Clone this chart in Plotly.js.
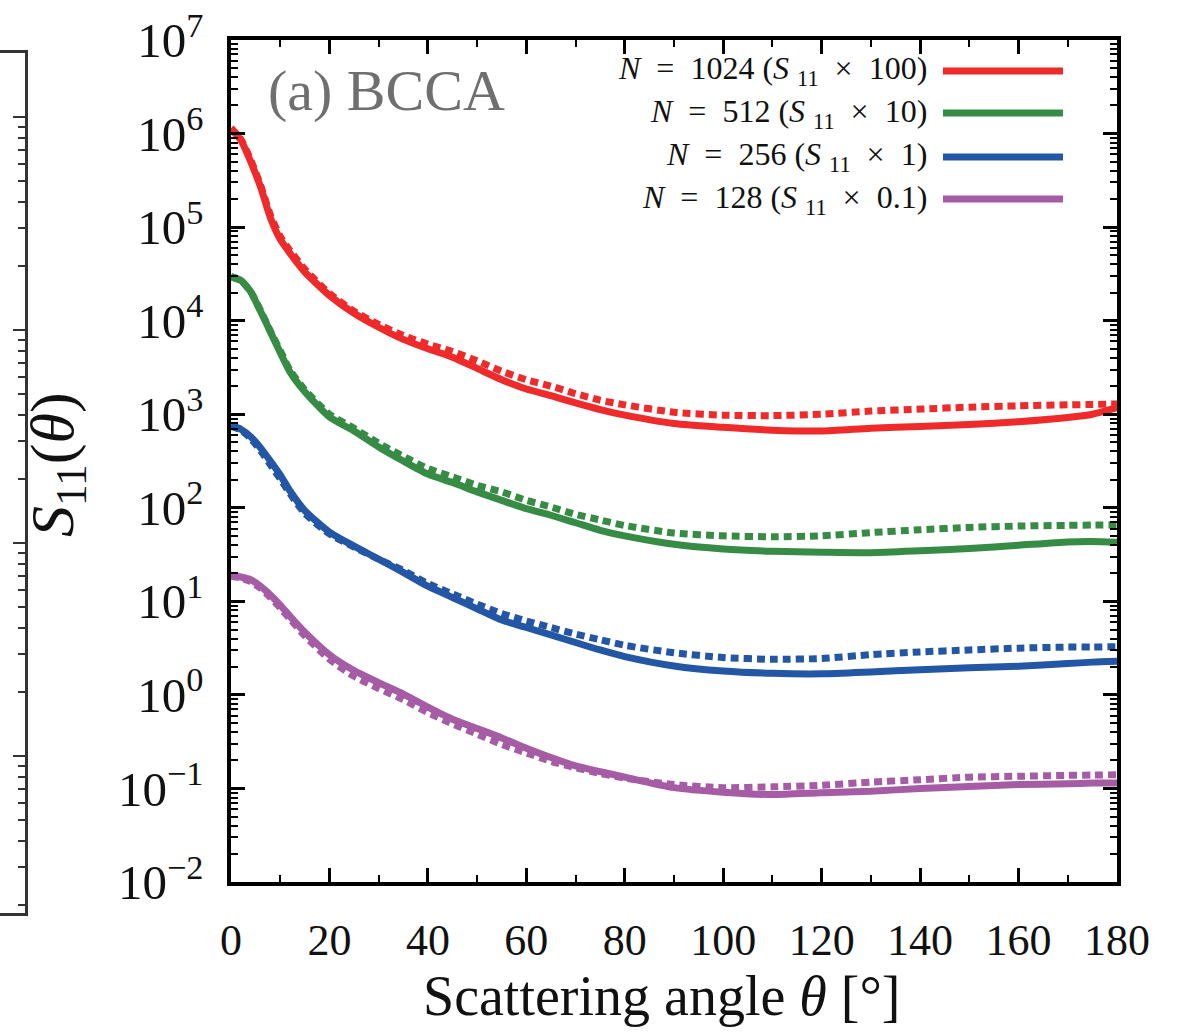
<!DOCTYPE html>
<html>
<head>
<meta charset="utf-8">
<script src="https://cdn.plot.ly/plotly-3.0.1.min.js"></script>
<style>html,body{margin:0;padding:0;background:#fff;}#chart{width:1182px;height:1033px;}</style>
</head>
<body>
<div id="chart"></div>
<script>
// Scattering angle (degrees)
const theta = [0, 2, 4, 6, 8, 10, 12, 15, 20, 25, 30, 35, 40, 45, 50, 55, 60, 65, 70, 75, 80, 90, 100, 110, 120, 130, 140, 150, 160, 170, 175, 180];

// N = 1024 (S11 x 100)
const n1024_solid = [1120000, 851000, 501000, 269000, 126000, 74100, 52500, 33100, 18600, 12000, 8510, 6310, 5010, 4070, 3090, 2340, 1860, 1580, 1320, 1120, 977, 794, 724, 676, 661, 708, 741, 776, 832, 923, 1000, 1175];
const n1024_dotted = [1150000, 871000, 525000, 282000, 135000, 79400, 56200, 35500, 19500, 12600, 9120, 6920, 5620, 4680, 3720, 2880, 2340, 2000, 1660, 1410, 1260, 1050, 977, 966, 1000, 1080, 1135, 1190, 1230, 1260, 1270, 1290];

// N = 512 (S11 x 10)
const n512_solid = [29500, 26900, 20400, 12600, 7590, 4570, 2820, 1740, 933, 661, 447, 316, 229, 186, 148, 120, 97.7, 83.2, 69.2, 57.5, 50.1, 40.7, 36.3, 34.3, 33.5, 33.1, 34.7, 36.7, 39.8, 43.2, 43.7, 42.7];
const n512_dotted = [29500, 26900, 20400, 12900, 7760, 4790, 2950, 1820, 1000, 708, 490, 355, 263, 214, 174, 148, 120, 102, 85.1, 74.1, 64.6, 53.7, 50.1, 49.0, 50.1, 54.3, 58.2, 61.7, 63.8, 64.9, 65.3, 65.3];

// N = 256 (S11 x 1)
const n256_solid = [759, 692, 575, 437, 316, 224, 151, 93.3, 55.0, 38.9, 28.2, 20.4, 14.5, 11.0, 8.32, 6.31, 5.25, 4.37, 3.63, 3.02, 2.57, 2.04, 1.80, 1.70, 1.68, 1.76, 1.86, 1.95, 2.02, 2.16, 2.24, 2.29];
const n256_dotted = [741, 676, 550, 407, 288, 204, 141, 87.1, 52.5, 38.0, 28.2, 21.4, 15.5, 12.0, 9.33, 7.41, 6.17, 5.25, 4.47, 3.89, 3.39, 2.82, 2.51, 2.40, 2.45, 2.69, 2.88, 3.02, 3.16, 3.24, 3.25, 3.27];

// N = 128 (S11 x 0.1)
const n128_solid = [18.8, 18.2, 17.0, 14.5, 11.7, 9.12, 6.92, 4.68, 2.69, 1.82, 1.35, 1.02, 0.741, 0.550, 0.437, 0.347, 0.269, 0.214, 0.174, 0.151, 0.132, 0.102, 0.0912, 0.0861, 0.0902, 0.0933, 0.100, 0.105, 0.110, 0.112, 0.114, 0.114];
const n128_dotted = [18.6, 17.8, 16.2, 13.8, 11.0, 8.51, 6.46, 4.27, 2.40, 1.58, 1.17, 0.891, 0.646, 0.490, 0.380, 0.295, 0.240, 0.195, 0.166, 0.145, 0.129, 0.110, 0.102, 0.104, 0.108, 0.117, 0.124, 0.132, 0.135, 0.138, 0.139, 0.140];

const SP = '\u2002';
const seriesNames = [
  '<i>N</i>' + SP + '=' + SP + '1024 (<i>S</i> <sub>11</sub>' + SP + '×' + SP + '100)',
  '<i>N</i>' + SP + '=' + SP + '512 (<i>S</i> <sub>11</sub>' + SP + '×' + SP + '10)',
  '<i>N</i>' + SP + '=' + SP + '256 (<i>S</i> <sub>11</sub>' + SP + '×' + SP + '1)',
  '<i>N</i>' + SP + '=' + SP + '128 (<i>S</i> <sub>11</sub>' + SP + '×' + SP + '0.1)'
];
const seriesColors = ['#ee2a2a', '#378c45', '#2356a5', '#a55ca5'];
const solidSeries = [n1024_solid, n512_solid, n256_solid, n128_solid];
const dottedSeries = [n1024_dotted, n512_dotted, n256_dotted, n128_dotted];

// Axis tick labels
const xTickVals = [0, 20, 40, 60, 80, 100, 120, 140, 160, 180];
const yTickVals = [1e-2, 1e-1, 1, 10, 100, 1e3, 1e4, 1e5, 1e6, 1e7];
const yTickText = ['10<sup>−2</sup>', '10<sup>−1</sup>', '10<sup>0</sup>', '10<sup>1</sup>', '10<sup>2</sup>', '10<sup>3</sup>', '10<sup>4</sup>', '10<sup>5</sup>', '10<sup>6</sup>', '10<sup>7</sup>'];

// minor tick positions (2..9 per decade)
const yMinor = [];
for (let k = -2; k <= 6; k++) { for (let d = 2; d <= 9; d++) yMinor.push(d * Math.pow(10, k)); }
const yMinor2 = [];
for (let k = -3; k <= 1; k++) { for (let d = 2; d <= 9; d++) yMinor2.push(d * Math.pow(10, k)); }

const serif = 'Liberation Serif';
const traces = [];
for (let i = 0; i < 4; i++) {
  traces.push({
    x: theta, y: dottedSeries[i], type: 'scatter', mode: 'lines', name: 'dotted ' + i,
    line: {color: seriesColors[i], width: 7, dash: '8px,5px', shape: 'spline', smoothing: 0.6},
    showlegend: false, hoverinfo: 'skip'
  });
}
for (let i = 0; i < 4; i++) {
  traces.push({
    x: theta, y: solidSeries[i], type: 'scatter', mode: 'lines', name: 'solid ' + i,
    line: {color: seriesColors[i], width: 7, shape: 'spline', smoothing: 0.6},
    showlegend: false, hoverinfo: 'skip'
  });
}
// partial neighbouring panel frame (empty)
traces.push({x: [], y: [], xaxis: 'x2', yaxis: 'y2', type: 'scatter', mode: 'lines', showlegend: false});

const W = 1182, H = 1033, mL = 0, mR = 65, mT = 40, mB = 120;
const pw = W - mL - mR, ph = H - mT - mB;
const px = v => (v - mL) / pw;
const py = v => (H - mB - v) / ph;

// custom legend: text right-aligned, line sample on the right
const legendRows = [71, 113, 157, 199];
const annotations = [];
const shapes = [];
for (let i = 0; i < 4; i++) {
  annotations.push({
    xref: 'paper', yref: 'paper', x: px(929), y: py(legendRows[i]),
    xanchor: 'right', yanchor: 'middle', showarrow: false, text: seriesNames[i],
    font: {family: serif, size: 32, color: '#111'}
  });
  shapes.push({
    type: 'line', xref: 'paper', yref: 'paper',
    x0: px(943), x1: px(1063), y0: py(legendRows[i]), y1: py(legendRows[i]),
    line: {color: seriesColors[i], width: 7}
  });
}
annotations.push({
  xref: 'paper', yref: 'paper', x: px(266), y: py(90), xanchor: 'left', yanchor: 'middle',
  showarrow: false, text: '(a) BCCA', font: {family: serif, size: 58, color: '#6f6f6f'}
});
annotations.push({
  xref: 'paper', yref: 'paper', x: px(56), y: py(465), xanchor: 'center', yanchor: 'middle',
  showarrow: false, textangle: -90, text: '<i>S</i><sub>11</sub>(<i>θ</i>)',
  font: {family: serif, size: 62, color: '#111'}
});
annotations.push({
  xref: 'paper', yref: 'paper', x: px(662), y: py(996), xanchor: 'center', yanchor: 'middle',
  showarrow: false, text: 'Scattering angle <i>θ</i> [°]',
  font: {family: serif, size: 56, color: '#111'}
});

const layout = {
  width: W, height: H,
  margin: {l: mL, r: mR, t: mT, b: mB, pad: 0},
  paper_bgcolor: '#fff', plot_bgcolor: '#fff',
  showlegend: false,
  font: {family: serif},
  xaxis: {
    domain: [px(231), 1], anchor: 'y',
    range: [0, 180], tickmode: 'array', tickvals: xTickVals,
    ticks: 'inside', ticklen: 14, tickwidth: 2.5, tickcolor: '#000',
    showline: true, linecolor: '#000', linewidth: 3.5, mirror: 'allticks',
    showgrid: false, zeroline: false,
    tickfont: {family: serif, size: 44, color: '#111'}, ticklabelstandoff: 16,
    minor: {dtick: 10, ticks: 'inside', ticklen: 7, tickwidth: 2, tickcolor: '#000', showgrid: false}
  },
  yaxis: {
    domain: [py(882), 1], anchor: 'x',
    type: 'log', range: [-2, 7], tickmode: 'array', tickvals: yTickVals, ticktext: yTickText,
    ticks: 'inside', ticklen: 14, tickwidth: 2.5, tickcolor: '#000',
    showline: true, linecolor: '#000', linewidth: 3.5, mirror: 'allticks',
    showgrid: false, zeroline: false,
    tickfont: {family: serif, size: 49, color: '#111'}, ticklabelstandoff: 14,
    minor: {tickmode: 'array', tickvals: yMinor, ticks: 'inside', ticklen: 7, tickwidth: 2, tickcolor: '#000', showgrid: false}
  },
  xaxis2: {
    domain: [0, px(25)], anchor: 'y2', range: [0, 1],
    showline: true, linecolor: '#333', linewidth: 2.5, mirror: true,
    ticks: '', showticklabels: false, showgrid: false, zeroline: false
  },
  yaxis2: {
    domain: [0, py(53)], anchor: 'x2', side: 'right',
    type: 'log', range: [-2.737, 1.301], dtick: 1,
    showline: true, linecolor: '#333', linewidth: 2.5,
    ticks: 'inside', ticklen: 12, tickwidth: 2, tickcolor: '#333',
    showticklabels: false, showgrid: false, zeroline: false,
    minor: {tickmode: 'array', tickvals: yMinor2, ticks: 'inside', ticklen: 7, tickwidth: 2, tickcolor: '#333', showgrid: false}
  },
  annotations: annotations,
  shapes: shapes
};

Plotly.newPlot('chart', traces, layout, {displayModeBar: false});
</script>
</body>
</html>
